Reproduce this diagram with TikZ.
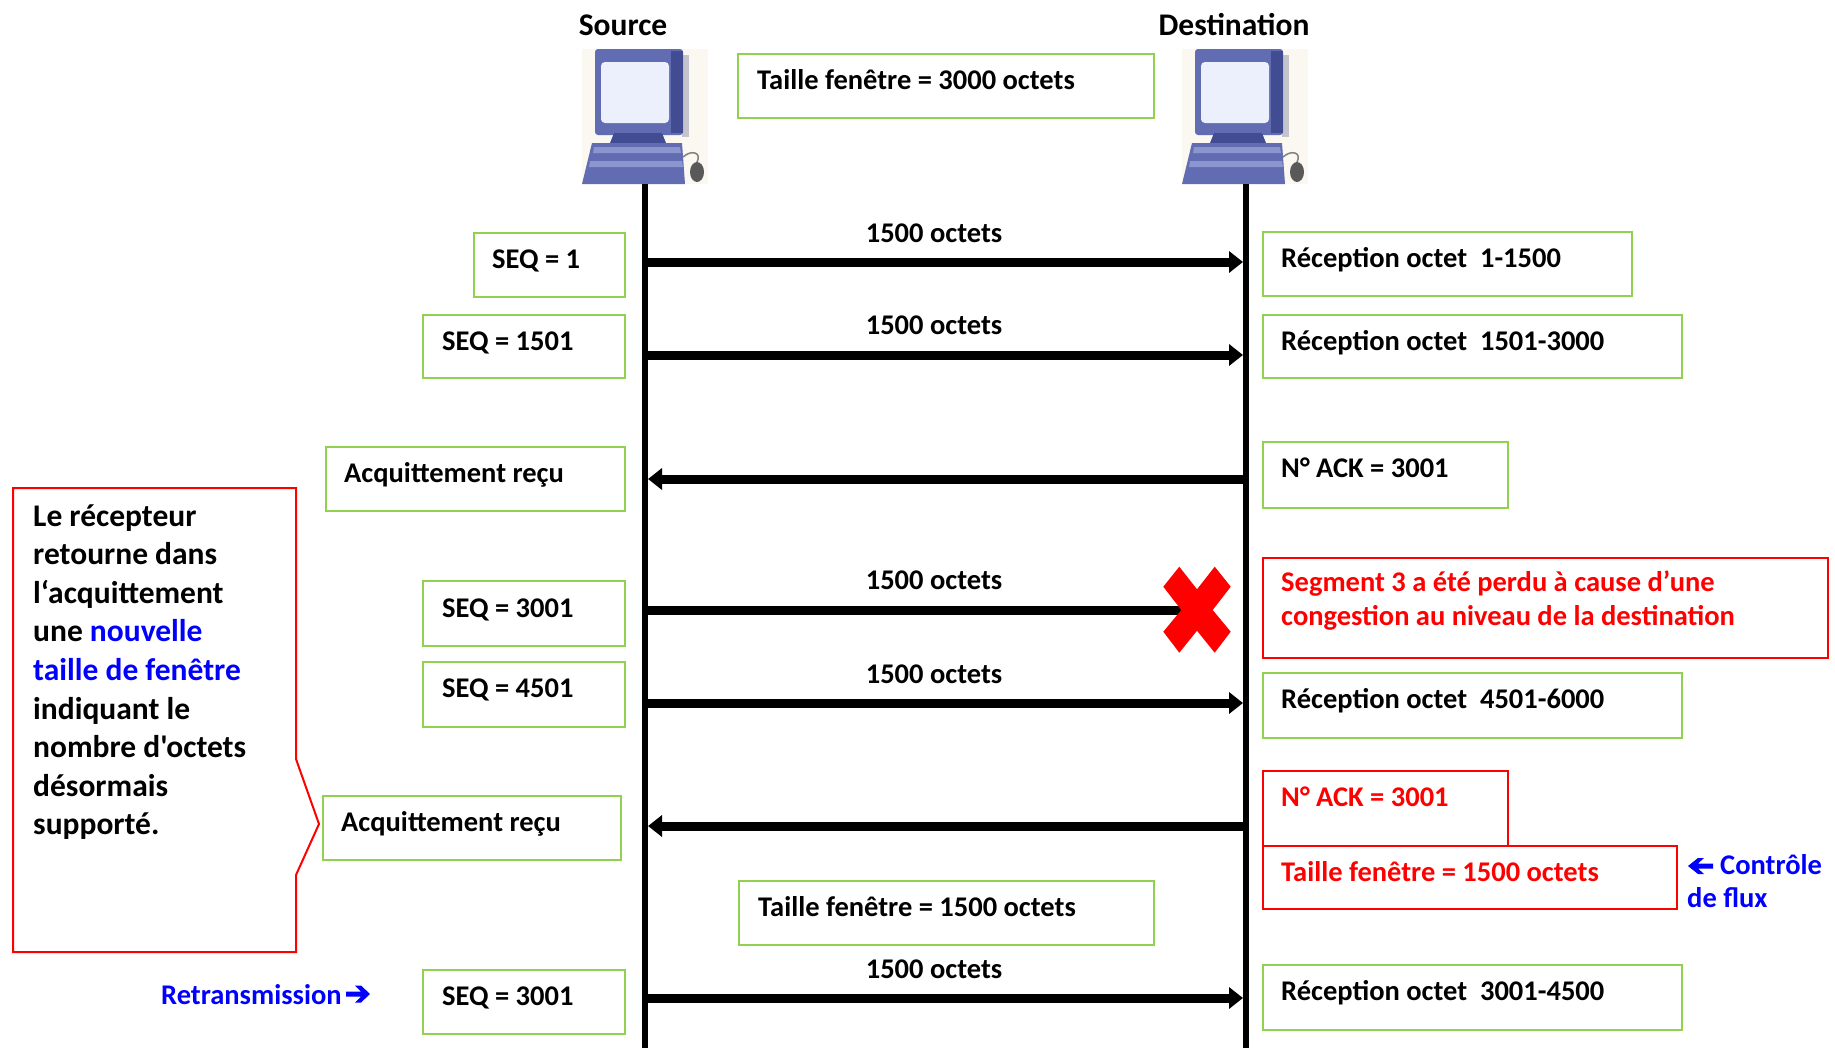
\documentclass[tikz,border=0pt]{standalone}
\usepackage{fontspec}
\newfontfamily\carlito{Carlito}
\usetikzlibrary{arrows.meta,calc}

\definecolor{boxgreen}{RGB}{146,208,80}
\definecolor{linkblue}{RGB}{0,0,255}
\definecolor{alertred}{RGB}{255,0,0}
\definecolor{pcframe}{RGB}{98,108,178}
\definecolor{pcdark}{RGB}{66,76,146}
\definecolor{pclight}{RGB}{140,150,206}
\definecolor{pcscreen}{RGB}{236,240,252}
\definecolor{pcshadow}{RGB}{196,196,204}
\definecolor{pcbg}{RGB}{250,248,240}

\newcommand{\msgfont}{\carlito\bfseries\fontsize{28.5}{34}\selectfont}
\newcommand{\headfont}{\carlito\bfseries\fontsize{31.5}{38.6}\selectfont}

\tikzset{
  gbox/.style={draw=boxgreen, line width=1.5pt, inner sep=0pt, anchor=north west},
  rbox/.style={draw=alertred, line width=1.5pt, inner sep=0pt, anchor=north west},
  txt/.style={anchor=base west, inner sep=0pt, font=\msgfont},
  lbl/.style={anchor=base, inner sep=0pt, font=\msgfont},
  head/.style={anchor=base, inner sep=0pt, font=\headfont},
  lifeline/.style={line width=6pt},
  msg/.style={line width=9pt, shorten >=3pt, -{Triangle[length=14pt,width=21pt]}},
  computer/.pic={
    \fill[pcbg] (0,0) rectangle (126,135);
    \fill[pcshadow] (100,6) rectangle (107,88);
    \fill[pcframe, rounded corners=3pt] (13,0) rectangle (101,86);
    \fill[pcdark] (89,2) rectangle (101,84);
    \fill[pcscreen, rounded corners=4pt] (19,13) rectangle (87,74);
    \fill[pcdark] (32,84) -- (80,84) -- (84,94) -- (28,94) -- cycle;
    \fill[pcframe] (10,94) -- (100,94) -- (103,135) -- (0,135) -- cycle;
    \fill[pclight] (12,98) -- (98,98) -- (99,104) -- (11,104) -- cycle;
    \fill[pclight] (8,112) -- (100,112) -- (101,118) -- (7,118) -- cycle;
    \draw[gray, line width=1.5pt] (101,108) .. controls (110,100) and (120,104) .. (115,113);
    \fill[gray!70!black] (115,123) ellipse [x radius=7, y radius=10];
  }
}

\begin{document}
\begin{tikzpicture}[x=1pt, y=-1pt]
\useasboundingbox (0,0) rectangle (1835,1052);

% hosts
\node[head] (srcName) at (623,35) {Source};
\node[head] (dstName) at (1234,35) {Destination};
\pic at (582,49) {computer};
\pic at (1182,49) {computer};

% lifelines
\coordinate (srcTop) at (645,184);
\coordinate (srcBot) at (645,1048);
\coordinate (dstTop) at (1246,184);
\coordinate (dstBot) at (1246,1048);
\draw[lifeline] (srcTop) -- (srcBot);
\draw[lifeline] (dstTop) -- (dstBot);

% window size boxes
\node[gbox, minimum width=416pt, minimum height=64pt] (win3000) at (737,53) {};
\node[txt] (win3000t) at ($(win3000.north west)+(20,36)$) {Taille fenêtre = 3000 octets};
\node[gbox, minimum width=415pt, minimum height=64pt] (win1500) at (738,880) {};
\node[txt] (win1500t) at ($(win1500.north west)+(20,36)$) {Taille fenêtre = 1500 octets};

% sender side boxes
\node[gbox, minimum width=151pt, minimum height=64pt] (seqA) at (473,232) {};
\node[txt] (seqAt) at ($(seqA.north west)+(19,36)$) {SEQ = 1};
\node[gbox, minimum width=202pt, minimum height=63pt] (seqB) at (422,314) {};
\node[txt] (seqBt) at ($(seqB.north west)+(20,36)$) {SEQ = 1501};
\node[gbox, minimum width=299pt, minimum height=64pt] (ackA) at (325,446) {};
\node[txt] (ackAt) at ($(ackA.north west)+(19,36)$) {Acquittement reçu};
\node[gbox, minimum width=202pt, minimum height=65pt] (seqC) at (422,580) {};
\node[txt] (seqCt) at ($(seqC.north west)+(20,37)$) {SEQ = 3001};
\node[gbox, minimum width=202pt, minimum height=65pt] (seqD) at (422,661) {};
\node[txt] (seqDt) at ($(seqD.north west)+(20,36)$) {SEQ = 4501};
\node[gbox, minimum width=298pt, minimum height=64pt] (ackB) at (322,795) {};
\node[txt] (ackBt) at ($(ackB.north west)+(19,36)$) {Acquittement reçu};
\node[gbox, minimum width=202pt, minimum height=64pt] (seqE) at (422,969) {};
\node[txt] (seqEt) at ($(seqE.north west)+(20,36)$) {SEQ = 3001};

% receiver side boxes
\node[gbox, minimum width=369pt, minimum height=64pt] (rcvA) at (1262,231) {};
\node[txt] (rcvAt) at ($(rcvA.north west)+(19,36)$) {Réception octet~~1-1500};
\node[gbox, minimum width=419pt, minimum height=63pt] (rcvB) at (1262,314) {};
\node[txt] (rcvBt) at ($(rcvB.north west)+(19,36)$) {Réception octet~~1501-3000};
\node[gbox, minimum width=245pt, minimum height=66pt] (ackNoA) at (1262,441) {};
\node[txt] (ackNoAt) at ($(ackNoA.north west)+(19,36)$) {N° ACK = 3001};
\node[rbox, minimum width=565pt, minimum height=100pt] (lossBox) at (1262,557) {};
\node[txt, text=alertred] (lossBoxt) at ($(lossBox.north west)+(19,34)$)
  {\parbox[t]{540pt}{\raggedright\fontsize{28.5}{34}\selectfont
   Segment 3 a été perdu à cause d’une\\congestion au niveau de la destination}};
\node[gbox, minimum width=419pt, minimum height=65pt] (rcvC) at (1262,672) {};
\node[txt] (rcvCt) at ($(rcvC.north west)+(19,36)$) {Réception octet~~4501-6000};
\node[rbox, minimum width=245pt, minimum height=75pt] (ackNoB) at (1262,770) {};
\node[txt, text=alertred] (ackNoBt) at ($(ackNoB.north west)+(19,36)$) {N° ACK = 3001};
\node[rbox, minimum width=414pt, minimum height=63pt, fill=white] (winNew) at (1262,845) {};
\node[txt, text=alertred] (winNewt) at ($(winNew.north west)+(19,36)$) {Taille fenêtre = 1500 octets};
\node[gbox, minimum width=419pt, minimum height=65pt] (rcvD) at (1262,964) {};
\node[txt] (rcvDt) at ($(rcvD.north west)+(19,36)$) {Réception octet~~3001-4500};

% message end points
\coordinate (m1s) at (645,262);  \coordinate (m1d) at (1246,262);
\coordinate (m2s) at (645,355);  \coordinate (m2d) at (1246,355);
\coordinate (m3s) at (645,479);  \coordinate (m3d) at (1246,479);
\coordinate (m4s) at (645,610);  \coordinate (lost) at (1197,610);
\coordinate (m5s) at (645,703);  \coordinate (m5d) at (1246,703);
\coordinate (m6s) at (645,826);  \coordinate (m6d) at (1246,826);
\coordinate (m7s) at (645,998);  \coordinate (m7d) at (1246,998);

% messages
\draw[msg] (m1s) -- (m1d);
\node[lbl] (o1) at (934,242) {1500 octets};
\draw[msg] (m2s) -- (m2d);
\node[lbl] (o2) at (934,334) {1500 octets};
\draw[msg] (m3d) -- (m3s);
\draw[line width=9pt] (m4s) -- (lost);
\node[lbl] (o3) at (934,589) {1500 octets};
\fill[alertred, shift={(lost)}]
  (-33.7,-23.3) -- (-17.7,-43.3) -- (0,-20.7) -- (17.7,-43.3) -- (33.7,-23.3)
  -- (15.7,0) -- (33.7,21.7) -- (17.7,42.7) -- (0,20.7) -- (-17.7,42.7)
  -- (-33.7,21.7) -- (-15.7,0) -- cycle;
\draw[msg] (m5s) -- (m5d);
\node[lbl] (o4) at (934,683) {1500 octets};
\draw[msg] (m6d) -- (m6s);
\draw[msg] (m7s) -- (m7d);
\node[lbl] (o5) at (934,978) {1500 octets};

% explanatory callout
\draw[alertred, line width=2pt] (13,488) -- (296,488) -- (296,759) -- (319,824)
  -- (296,875) -- (296,952) -- (13,952) -- cycle;
\node[anchor=base west, inner sep=0pt, font=\headfont] (note) at (33,526)
  {\parbox[t]{262pt}{\raggedright\fontsize{31.5}{38.6}\selectfont
   Le récepteur\\retourne dans\\l‘acquittement\\une {\color{linkblue}nouvelle}\\
   {\color{linkblue}taille de fenêtre}\\indiquant le\\nombre d'octets\\désormais\\supporté.}};

% side remarks
\node[txt, text=linkblue] (retr) at (161,1004) {Retransmission};
\fill[linkblue, shift={(346,994)}]
  (0,-2.5) -- (15,-2.5) -- (9,-8.5) -- (15,-8.5) -- (24,0) -- (15,8.5)
  -- (9,8.5) -- (15,2.5) -- (0,2.5) -- cycle;
\fill[linkblue, shift={(1688,866)}]
  (25,-2.5) -- (10,-2.5) -- (16,-8) -- (10,-8) -- (0,0) -- (10,8)
  -- (16,8) -- (10,2.5) -- (25,2.5) -- cycle;
\node[txt, text=linkblue] (ctrlA) at (1720,874) {Contrôle};
\node[txt, text=linkblue] (ctrlB) at (1687,907) {de flux};
\end{tikzpicture}
\end{document}
